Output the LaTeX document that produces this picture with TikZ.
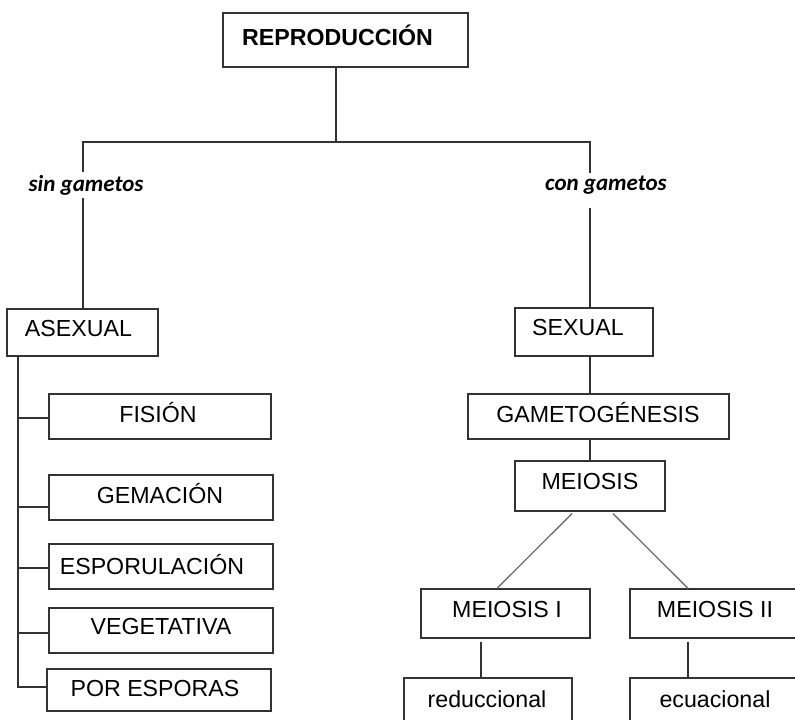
\documentclass[tikz,border=0pt]{standalone}
\usepackage{fontspec}
\setmainfont{Liberation Sans}
\newfontfamily\labfont{Carlito}
\usetikzlibrary{calc}
\definecolor{lin}{HTML}{333333}
\definecolor{diag}{HTML}{707070}
\tikzset{
  box/.style={draw=lin, line width=1.3pt, rectangle, inner sep=0pt},
  txt/.style={inner sep=0pt, font=\fontsize{23.2}{27}\selectfont, text=black},
  lab/.style={inner sep=0pt, font=\labfont\bfseries\itshape\fontsize{23}{27}\selectfont, text=black},
  conn/.style={draw=lin, line width=1.3pt},
  dconn/.style={draw=diag, line width=1.3pt}
}
\begin{document}
\begin{tikzpicture}[x=1pt,y=-1pt]
\useasboundingbox (0,0) rectangle (795,720);
\clip (0,0) rectangle (795,720);
\fill[white] (0,0) rectangle (795,720);
% boxes
\node[box, minimum width=245, minimum height=54] (repro) at (345.5,40) {};
\node[box, minimum width=151, minimum height=47] (asexual) at (82.5,332.5) {};
\node[box, minimum width=222, minimum height=45] (fision) at (160,416.5) {};
\node[box, minimum width=224, minimum height=45] (gemacion) at (161,497.5) {};
\node[box, minimum width=224, minimum height=45] (esporulacion) at (161,566.5) {};
\node[box, minimum width=224, minimum height=45] (vegetativa) at (161,630.5) {};
\node[box, minimum width=224, minimum height=42] (poresporas) at (159,690) {};
\node[box, minimum width=138, minimum height=48] (sexual) at (584,332) {};
\node[box, minimum width=261, minimum height=45] (gameto) at (598.5,416.5) {};
\node[box, minimum width=150, minimum height=50] (meiosis) at (590,486) {};
\node[box, minimum width=169, minimum height=49] (meiosisI) at (505.5,613.5) {};
\node[box, minimum width=175, minimum height=49] (meiosisII) at (717.5,613.5) {};
\node[box, minimum width=168, minimum height=62] (reduc) at (488,709) {};
\node[box, minimum width=175, minimum height=62] (ecua) at (717.5,709) {};
% texts
\node[txt] (reprot) at (337.5,35) {\bfseries REPRODUCCIÓN};
\node[txt] (asexualt) at (78.5,329) {ASEXUAL};
\node[txt] (fisiont) at (158,413) {FISIÓN};
\node[txt] (gemaciont) at (160,494) {GEMACIÓN};
\node[txt] (esporulaciont) at (152,565) {ESPORULACIÓN};
\node[txt] (vegetativat) at (161,627) {VEGETATIVA};
\node[txt] (poresporast) at (155,689) {POR ESPORAS};
\node[txt] (sexualt) at (578,328) {SEXUAL};
\node[txt] (gametot) at (598,413) {GAMETOGÉNESIS};
\node[txt] (meiosist) at (590,482) {MEIOSIS};
\node[txt] (meiosisIt) at (507,610) {MEIOSIS I};
\node[txt] (meiosisIIt) at (715,610) {MEIOSIS II};
\node[txt] (reduct) at (487,699) {reduccional};
\node[txt] (ecuat) at (715,699) {ecuacional};
\node[lab] (sint) at (86,185) {sin gametos};
\node[lab] (cont) at (606,185) {con gametos};
% junction coordinates
\coordinate (j) at (336,142);
\coordinate (s1) at (83,172);
\coordinate (s2) at (83,198);
\coordinate (c1) at (590,173);
\coordinate (c2) at (590,208);
\coordinate (tr) at (18,687);
% connectors
\draw[conn] (repro.south -| j) -- (j);
\draw[conn] (s1) |- (j) -| (c1);
\draw[conn] (s2) -- (s2 |- asexual.north);
\draw[conn] (c2) -- (c2 |- sexual.north);
\draw[conn] (sexual.south -| c2) -- (gameto.north -| c2);
\draw[conn] (gameto.south -| c2) -- (meiosis.north -| c2);
\draw[dconn] ($(meiosis.south)+(-18,2)$) -- ($(meiosisI.north)+(-8.5,0)$);
\draw[dconn] ($(meiosis.south)+(23,2)$) -- ($(meiosisII.north)+(-29.5,0)$);
\draw[conn] ($(meiosisI.south)+(-24.5,3)$) -- ($(reduc.north)+(-7,0)$);
\draw[conn] ($(meiosisII.south)+(-29.5,3)$) -- ($(ecua.north)+(-29.5,0)$);
% left trunk
\draw[conn] (asexual.south -| tr) -- (tr) -- (tr -| poresporas.west);
\path (fision.west) ++(0,1.5) coordinate (bf);
\path (gemacion.west) ++(0,9.5) coordinate (bg);
\path (esporulacion.west) ++(0,1.5) coordinate (be);
\path (vegetativa.west) ++(0,2.5) coordinate (bv);
\draw[conn] (bf) -- (bf -| tr);
\draw[conn] (bg) -- (bg -| tr);
\draw[conn] (be) -- (be -| tr);
\draw[conn] (bv) -- (bv -| tr);
\end{tikzpicture}
\end{document}
